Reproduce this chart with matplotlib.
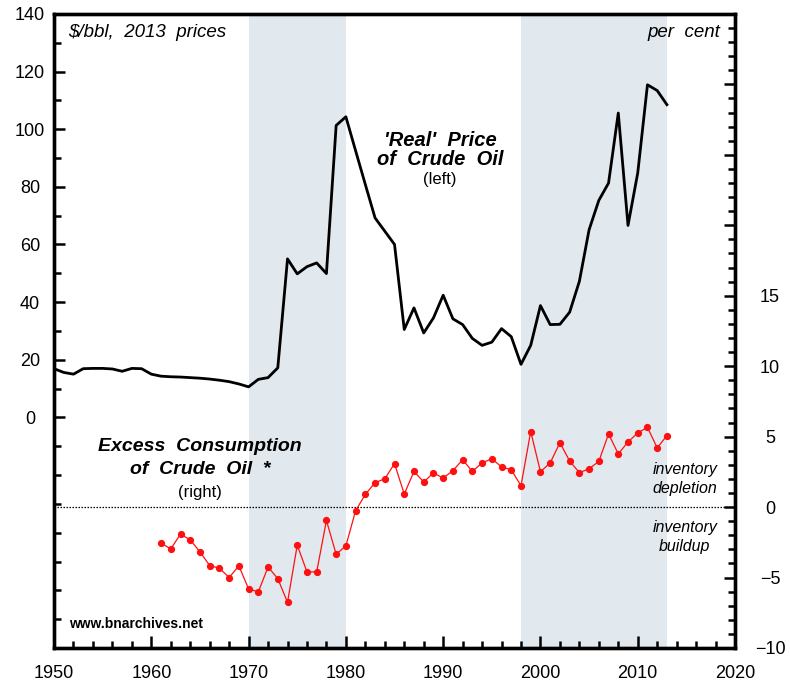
import numpy as np
import matplotlib
matplotlib.use('Agg')
import matplotlib.pyplot as plt
from matplotlib.ticker import MultipleLocator, FixedLocator

plt.rcParams['font.family'] = ['Liberation Sans', 'DejaVu Sans']

# real price of crude oil, $/bbl in 2013 prices (left axis)
price_years = list(range(1950, 2014))
price = [16.9, 15.6, 15.0, 16.9, 17.0, 17.0, 16.8, 16.0, 17.0, 16.9,
         15.0, 14.3, 14.1, 14.0, 13.8, 13.6, 13.3, 12.9, 12.4, 11.6,
         10.6, 13.2, 13.8, 17.2, 55.0, 49.8, 52.3, 53.6, 49.9, 101.3,
         104.3, 92.5, 80.8, 69.2, 64.6, 60.0, 30.5, 38.0, 29.3, 34.5,
         42.4, 34.2, 32.2, 27.4, 25.0, 26.1, 30.8, 28.0, 18.4, 25.0,
         38.8, 32.2, 32.3, 36.5, 47.2, 65.1, 75.3, 81.3, 105.6, 66.6,
         84.8, 115.4, 113.4, 108.5]

# excess consumption of crude oil, per cent (right axis)
excess_years = list(range(1961, 2014))
excess = [-2.56, -2.97, -1.92, -2.33, -3.18, -4.15, -4.34, -5.0, -4.17, -5.81,
          -6.02, -4.25, -5.08, -6.76, -2.7, -4.6, -4.6, -0.95, -3.35, -2.75,
          -0.26, 0.9, 1.73, 2.01, 3.08, 0.92, 2.53, 1.78, 2.42, 2.06,
          2.58, 3.36, 2.53, 3.13, 3.43, 2.85, 2.65, 1.51, 5.36, 2.51,
          3.13, 4.57, 3.27, 2.44, 2.72, 3.24, 5.19, 3.77, 4.62, 5.26,
          5.66, 4.2, 5.07]

shaded = [(1970, 1980), (1998, 2013)]

left_ticks = [0, 20, 40, 60, 80, 100, 120, 140]
right_ticks = [-10, -5, 0, 5, 10, 15]
x_ticks = [1950, 1960, 1970, 1980, 1990, 2000, 2010, 2020]

fig = plt.figure(figsize=(7.9, 6.87), dpi=100)
ax = fig.add_axes([0.0684, 0.0568, 0.862, 0.923])
ax2 = ax.twinx()

for a, b in shaded:
    ax.axvspan(a, b, color='#e1e8ee', lw=0, zorder=0)

ax.plot(price_years, price, color='black', lw=2.0, zorder=3)
ax2.axhline(0, color='black', lw=0.9, ls=(0, (1.2, 1.2)))
ax2.plot(excess_years, excess, color='#ff1010', lw=0.9, marker='o',
         markersize=4.2, zorder=3)

ax.set_xlim(1950, 2020)
ax.set_ylim(-80, 140)
ax2.set_ylim(-10, 35)

ax.xaxis.set_major_locator(FixedLocator(x_ticks))
ax.xaxis.set_minor_locator(MultipleLocator(2))
ax.yaxis.set_major_locator(FixedLocator(left_ticks))
ax.yaxis.set_minor_locator(MultipleLocator(10))
ax2.yaxis.set_major_locator(MultipleLocator(5))
ax2.yaxis.set_minor_locator(MultipleLocator(1))

ax.set_xticklabels([str(t) for t in x_ticks], fontsize=13)
ax.set_yticklabels([str(t) for t in left_ticks], fontsize=13, ha='center')
ax2.set_yticks(np.arange(-10, 36, 5))
ax2.set_yticklabels([('\u2212' + str(-t) if t < 0 else str(t)) if t in right_ticks else ''
                     for t in np.arange(-10, 36, 5)], fontsize=13, ha='center')

ax.tick_params(axis='x', which='both', direction='in', top=False, pad=12, width=1.8)
ax.tick_params(axis='x', which='major', length=9)
ax.tick_params(axis='x', which='minor', length=5)
ax.tick_params(axis='y', which='both', direction='in', right=False, pad=17.3, width=1.8)
ax.tick_params(axis='y', which='major', length=8)
ax.tick_params(axis='y', which='minor', length=5)
ax2.tick_params(axis='y', which='both', direction='in', pad=25.2, width=1.8)
ax2.tick_params(axis='y', which='major', length=8)
ax2.tick_params(axis='y', which='minor', length=5)

for a in (ax, ax2):
    for s in a.spines.values():
        s.set_linewidth(2.4)

# annotations
ax.text(1951.4, 133.4, '$/bbl,  2013  prices', fontsize=13.5, style='italic',
        ha='left', va='center')
ax.text(2018.45, 133.4, 'per  cent', fontsize=13.5, style='italic',
        ha='right', va='center')
ax.text(1989.7, 96, "'Real'  Price", fontsize=14.5, style='italic', weight='bold',
        ha='center', va='center')
ax.text(1989.7, 89.4, 'of  Crude  Oil', fontsize=14.5, style='italic', weight='bold',
        ha='center', va='center')
ax.text(1989.7, 82.6, '(left)', fontsize=12, ha='center', va='center')
ax.text(1965.0, -10, 'Excess  Consumption', fontsize=14, style='italic', weight='bold',
        ha='center', va='center')
ax.text(1965.0, -18, 'of  Crude  Oil  *', fontsize=14, style='italic', weight='bold',
        ha='center', va='center')
ax.text(1965.0, -26, '(right)', fontsize=12, ha='center', va='center')
ax.text(2014.85, -18, 'inventory', fontsize=11.5, style='italic', ha='center', va='center')
ax.text(2014.85, -24.6, 'depletion', fontsize=11.5, style='italic', ha='center', va='center')
ax.text(2014.85, -38.1, 'inventory', fontsize=11.5, style='italic', ha='center', va='center')
ax.text(2014.85, -44.7, 'buildup', fontsize=11.5, style='italic', ha='center', va='center')
ax.text(1951.5, -71.7, 'www.bnarchives.net', fontsize=10, weight='bold',
        ha='left', va='center')

fig.savefig('out.png', dpi=100)
